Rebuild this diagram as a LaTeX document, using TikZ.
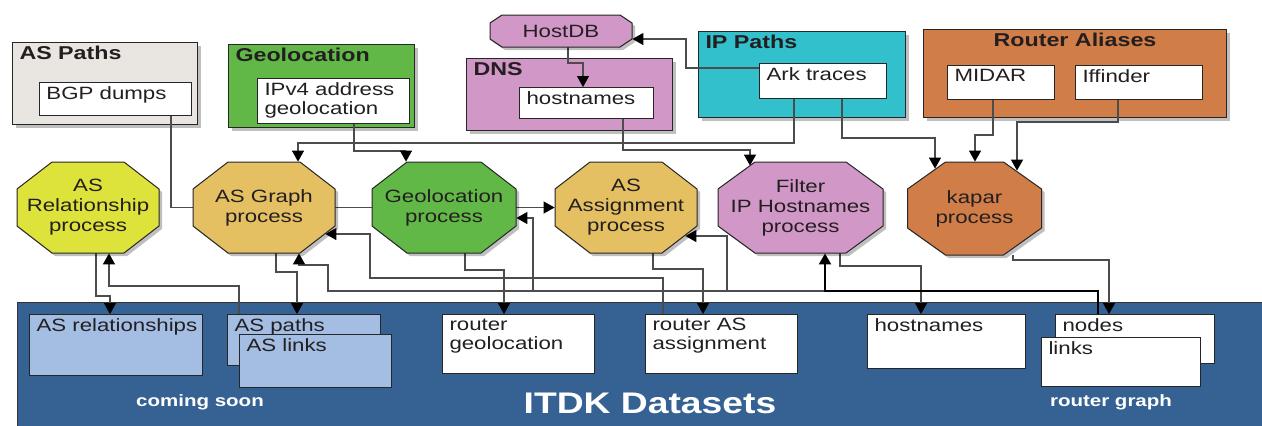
\documentclass[tikz,border=0pt]{standalone}
\usepackage{fontspec}
\setmainfont{Liberation Sans}[FakeStretch=1.25]
\usetikzlibrary{arrows.meta,calc,positioning,shadows}

\definecolor{aspathsbg}{HTML}{E9E5E0}
\definecolor{geogreen}{HTML}{62B847}
\definecolor{dnspink}{HTML}{D197C7}
\definecolor{ipcyan}{HTML}{33C0CD}
\definecolor{aliasorange}{HTML}{D17D48}
\definecolor{asyellow}{HTML}{DEE33B}
\definecolor{asgold}{HTML}{E5C063}
\definecolor{itdkblue}{HTML}{356193}
\definecolor{dslblue}{HTML}{A3BDE3}
\definecolor{textdark}{HTML}{231F20}

\pgfdeclarelayer{background}
\pgfdeclarelayer{wires}
\pgfsetlayers{background,wires,main}

\newcommand{\boxfont}{\fontsize{8.9}{9.5}\selectfont}
\newcommand{\titlefont}{\fontsize{9.3}{10}\selectfont\bfseries}
\newcommand{\procfont}{\fontsize{8.9}{10}\selectfont}

\tikzset{
    wire/.style={draw=black!70, line width=0.6pt, -{Triangle[length=5.5pt,width=6pt,black]}},
    feed/.style={wire, draw=black, line width=1pt},
    softshadow/.style={drop shadow={shadow xshift=1.5pt, shadow yshift=-1.5pt, fill=black, opacity=0.25}},
    grp/.style={draw=black!85, line width=0.5pt, anchor=north west, inner xsep=3.5pt, inner ysep=2pt, text=textdark, softshadow},
    inbox/.style={draw=black!85, fill=white, line width=0.5pt, anchor=north west, inner xsep=3.5pt, inner ysep=2pt, text=textdark},
    proc/.style={inner sep=0pt, align=center, text=textdark, font=\procfont},
    octline/.style={draw=black!85, line width=0.5pt, softshadow},
    whitelabel/.style={inner sep=0pt, text=white, font=\fontsize{8.2}{9}\selectfont\bfseries}
}

% box with its text in the top left corner: name, style, x, y, width, height, text
\newcommand{\dbox}[7]{%
    \node[#2] (#1) at (#3,#4)
        {\parbox[c][\dimexpr #6pt/2-4pt\relax][t]{\dimexpr #5pt/2-7pt\relax}{\boxfont\raggedright #7}};}

% octagon process: name, centre, half width, half height, cut x, cut y, colour, text
\newcommand{\octnode}[8]{%
    \draw[octline, fill=#7, shift={(#2)}]
        (-#3+#5,-#4) -- (#3-#5,-#4) -- (#3,-#4+#6) -- (#3,#4-#6)
        -- (#3-#5,#4) -- (-#3+#5,#4) -- (-#3,#4-#6) -- (-#3,-#4+#6) -- cycle;
    \node[proc, minimum width=#3pt, minimum height=#4pt] (#1) at (#2) {#8};}

\begin{document}
\begin{tikzpicture}[x=0.5pt, y=-0.5pt]
    \useasboundingbox (0,0) rectangle (1262,425);

    \begin{pgfonlayer}{background}
        \node[draw=black!80, line width=0.5pt, fill=itdkblue, anchor=north west,
              minimum width=630pt, minimum height=70pt] (itdk) at (17,302) {};
        \dbox{aspathsg}{grp, fill=aspathsbg}{12}{42}{185}{82}{\titlefont AS Paths}
        \dbox{geog}{grp, fill=geogreen}{228}{44}{186}{83}{\titlefont Geolocation}
        \dbox{dnsg}{grp, fill=dnspink}{466}{58}{206}{72}{\titlefont DNS}
        \dbox{ipg}{grp, fill=ipcyan}{698}{31}{207}{86}{\titlefont IP Paths}
        \dbox{aliasg}{grp, fill=aliasorange}{923}{29}{303}{88}{\centering\titlefont Router Aliases}
    \end{pgfonlayer}

    % sources
    \dbox{bgp}{inbox}{39}{82}{152}{33}{BGP dumps}
    \dbox{ipv4}{inbox}{257}{78}{152}{45}{IPv4 address\\geolocation}
    \dbox{dnshost}{inbox}{519}{87}{134}{31}{hostnames}
    \dbox{ark}{inbox}{759}{63}{127}{35}{Ark traces}
    \dbox{midar}{inbox}{947}{65}{107}{34}{MIDAR}
    \dbox{iff}{inbox}{1075}{65}{127}{34}{Iffinder}
    \octnode{hostdb}{561,31}{71}{16}{12}{8}{dnspink}{HostDB}

    % processes
    \octnode{asrel}{88,207.5}{71}{45.5}{35}{27}{asyellow}{AS\\Relationship\\process}
    \octnode{asgraph}{264,207.5}{71}{45.5}{35}{27}{asgold}{AS Graph\\process}
    \octnode{geoproc}{444,207.5}{72}{45.5}{35}{27}{geogreen}{Geolocation\\process}
    \octnode{asassign}{626,207.5}{71}{45.5}{35}{27}{asgold}{AS\\Assignment\\process}
    \octnode{filter}{800.5,207.5}{82.5}{45.5}{37}{27}{dnspink}{Filter\\IP Hostnames\\process}
    \octnode{kapar}{974.5,208.5}{67}{46.5}{38}{27}{aliasorange}{kapar\\process}

    % datasets
    \dbox{asrels}{inbox, fill=dslblue}{29}{314}{173}{61}{\mbox{AS relationships}}
    \dbox{aspathsd}{inbox, fill=dslblue}{227}{314}{153}{51}{AS paths}
    \dbox{aslinks}{inbox, fill=dslblue}{239}{334}{152}{53}{AS links}
    \dbox{rgeo}{inbox}{442}{314}{152}{59}{router\\geolocation}
    \dbox{rasa}{inbox}{645}{314}{152}{59}{router AS\\assignment}
    \dbox{dhost}{inbox}{867}{314}{158}{54}{hostnames}
    \dbox{rnodes}{inbox}{1055}{314}{159}{49}{nodes}
    \dbox{rlinks}{inbox}{1041}{337}{159}{49}{links}

    \node[inner sep=0pt, text=white, font=\fontsize{14.9}{16}\selectfont\bfseries] (itdklabel) at (650,403) {ITDK Datasets};
    \node[whitelabel] (soon) at (200,402) {coming soon};
    \node[whitelabel] (rgraph) at (1111,402) {router graph};

    \begin{pgfonlayer}{wires}
        \draw[wire] (bgp.south -| 171,0) |- (asassign.west);
        \draw[wire] (ipv4.south -| 354,0) -- (354,151) -| (geoproc.north -| 406,0);
        \draw[wire] (ark.south -| 794,0) -- (794,143) -| (asgraph.north -| 298,0);
        \draw[wire] (ark.west |- 0,68) -| (686,39) -- (hostdb.east |- 0,39);
        \draw[wire] (hostdb.south -| 568,0) -- (568,63) -| (dnshost.north -| 583,0);
        \draw[wire] (dnshost.south -| 623,0) -- (623,150) -| ($(filter.north -| 750,0)+(0,4)$);
        \draw[wire] (ark.south -| 842,0) -- (842,138) -| ($(kapar.north -| 935,0)+(0,7)$);
        \draw[wire] (midar.south -| 993,0) -- (993,135) -| (kapar.north -| 975,0);
        \draw[wire] (iff.south -| 1118,0) -- (1118,122) -| ($(kapar.north -| 1017,0)+(0,9)$);

        \draw[wire] (asrel.south -| 96,0) -- (96,296) -| (asrels.north -| 110,0);
        \draw[wire] (aspathsd.north -| 239,0) -- (239,286) -| (asrel.south -| 109,0);
        \draw[wire] (asgraph.south -| 276,0) -- (276,272) -| (aspathsd.north -| 297,0);
        \draw[wire] (rasa.north -| 663,0) |- (370,278) |- ($(asgraph.east |- 0,234)+(-10,0)$);
        \draw[wire] (geoproc.south -| 465,0) -- (465,270) -| (rgeo.north -| 504,0);
        \draw[wire] (asassign.south -| 653,0) -- (653,269) -| (rasa.north -| 703,0);
        \draw[wire] (filter.south -| 840,0) -- (840,266) -| (dhost.north -| 921,0);
        \draw[wire] (kapar.south -| 1013,0) -- (1013,260) -| (rnodes.north -| 1109,0);

        \draw[wire] (rnodes.north -| 1098,0) |- (328,291) |- (299,265) -- (asgraph.south -| 299,0);
        \draw[wire] (rnodes.north -| 1098,0) |- (533,291) |- (geoproc.east |- 0,218);
        \draw[wire] (rnodes.north -| 1098,0) |- (727,291) |- ($(asassign.east |- 0,236)+(-12,0)$);
        \draw[feed] (rnodes.north -| 1098,0) |- (825,291) -- (filter.south -| 825,0);
    \end{pgfonlayer}
\end{tikzpicture}
\end{document}
